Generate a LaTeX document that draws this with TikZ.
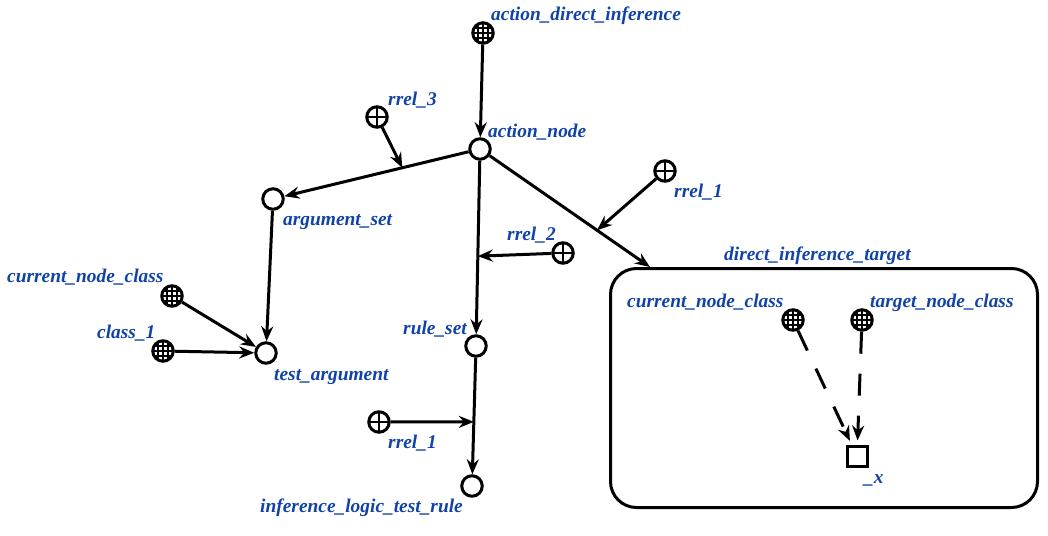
\documentclass[tikz,border=0pt]{standalone}
\usepackage{fontspec}
\setmainfont{Liberation Serif}
\usetikzlibrary{arrows.meta}
\definecolor{labelblue}{RGB}{16,66,168}
\tikzset{
  x=1pt, y=-1pt,
  edge/.style={line width=3pt, -{Stealth[length=15pt,width=12pt,inset=5pt]}},
  dashedge/.style={edge, dash pattern=on 22pt off 20pt, shorten >=4pt},
  varnode/.style={circle, draw, line width=3pt, minimum size=20.5pt, inner sep=0pt},
  classnode/.style={varnode, path picture={
      \foreach \d in {-5,0,5}{
        \draw[line width=1.4pt, shift={(path picture bounding box.center)}]
          (\d,-12) -- (\d,12) (-12,\d) -- (12,\d);
      }}},
  relnode/.style={varnode, path picture={
      \draw[line width=2.6pt, shift={(path picture bounding box.center)}]
        (0,-12) -- (0,12) (-12,0) -- (12,0);
    }},
  sqnode/.style={rectangle, draw, line width=3pt, minimum size=20pt, inner sep=0pt},
  lbl/.style={text=labelblue, font=\bfseries\itshape\fontsize{19.4}{22}\selectfont,
    inner sep=0pt, anchor=base west},
  box/.style={draw, line width=3pt, rounded corners=26pt, inner sep=0pt}
}
\begin{document}
\begin{tikzpicture}
\useasboundingbox (0,0) rectangle (1048,535);

% main structure nodes
\node[classnode] (adi) at (483,33) {};
\node[varnode] (an) at (480,149) {};
\node[relnode] (r3) at (377,117) {};
\node[varnode] (as) at (273,199) {};
\node[classnode] (cnc) at (172,296) {};
\node[classnode] (c1) at (163,351) {};
\node[varnode] (ta) at (266,353) {};
\node[relnode] (r1t) at (665,171) {};
\node[relnode] (r2) at (563,253) {};
\node[varnode] (rs) at (476,346) {};
\node[relnode] (r1b) at (379,422) {};
\node[varnode] (ilt) at (472,486) {};

% structure of the inference target
\node[box, minimum width=427pt, minimum height=239pt] (dit) at (824,388) {};
\node[classnode] (cnci) at (793,320) {};
\node[classnode] (tnc) at (862,320) {};
\node[sqnode] (x) at (857,456) {};

% labels
\node[lbl] (ladi) at (491,21) {action\_direct\_inference};
\node[lbl] (lan) at (488,137) {action\_node};
\node[lbl] (lr3) at (388,105) {rrel\_3};
\node[lbl] (las) at (283,225) {argument\_set};
\node[lbl] (lcnc) at (7,282) {current\_node\_class};
\node[lbl] (lc1) at (97,338) {class\_1};
\node[lbl] (lta) at (274,380) {test\_argument};
\node[lbl] (lr1t) at (674,197) {rrel\_1};
\node[lbl] (lr2) at (507,240) {rrel\_2};
\node[lbl] (lrs) at (403,334) {rule\_set};
\node[lbl] (lr1b) at (388,448) {rrel\_1};
\node[lbl] (lilt) at (260,512) {inference\_logic\_test\_rule};
\node[lbl] (ldit) at (724,260) {direct\_inference\_target};
\node[lbl] (lcnci) at (627,307) {current\_node\_class};
\node[lbl] (ltnc) at (870,307) {target\_node\_class};
\node[lbl] (lx) at (864,483) {\_x};

% connectors
\draw[edge] (adi) -- (an);
\draw[edge] (an) -- coordinate[pos=0.36] (e3) (as);
\draw[edge] (r3) -- (e3);
\draw[edge] (as) -- (ta);
\draw[edge] (cnc) -- (ta);
\draw[edge] (c1) -- (ta);
\draw[edge] (an) -- coordinate[pos=0.55] (e2) (rs);
\draw[edge] (r2) -- (e2);
\draw[edge] (rs) -- coordinate[pos=0.55] (e1b) (ilt);
\draw[edge] (r1b) -- (e1b);
\draw[edge] (an) -- coordinate[pos=0.67] (e1t) (dit);
\draw[edge] (r1t) -- (e1t);
\draw[dashedge] (cnci) -- (x);
\draw[dashedge] (tnc) -- (x);
\end{tikzpicture}
\end{document}
